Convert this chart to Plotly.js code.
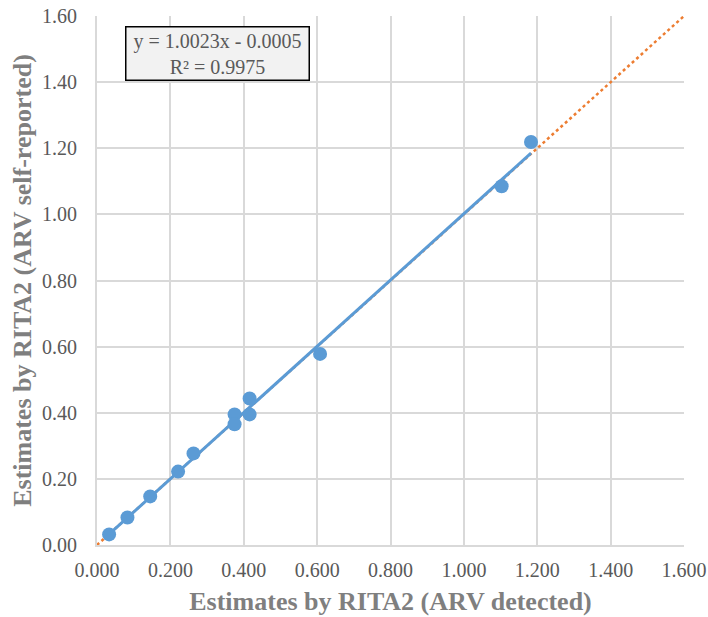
<!DOCTYPE html>
<html>
<head>
<meta charset="utf-8">
<script src="https://cdn.plot.ly/plotly-3.0.1.min.js"></script>
<style>html,body{margin:0;padding:0;background:#fff;}#chart{width:708px;height:617px;}</style>
</head>
<body>
<div id="chart"></div>
<script>
// Data
var arvDetected = [0.033, 0.083, 0.145, 0.221, 0.263, 0.375, 0.375, 0.416, 0.416, 0.608, 1.103, 1.183];
var arvSelfReported = [0.032, 0.083, 0.147, 0.222, 0.277, 0.395, 0.365, 0.443, 0.395, 0.578, 1.085, 1.219];
var slope = 1.0023;
var intercept = -0.0005;
var identityX = [0, 1.6];
var identityY = [0, 1.6];
var xTicks = [0, 0.2, 0.4, 0.6, 0.8, 1.0, 1.2, 1.4, 1.6];
var yTicks = [0, 0.2, 0.4, 0.6, 0.8, 1.0, 1.2, 1.4, 1.6];

var xMin = Math.min.apply(null, arvDetected);
var xMax = Math.max.apply(null, arvDetected);
var trendX = [xMin, xMax];
var trendY = trendX.map(function(v){ return slope * v + intercept; });

var traces = [
  {x: identityX, y: identityY, mode: 'lines', type: 'scatter',
   line: {color: '#ed7d31', width: 2.5, dash: 'dot'}, hoverinfo: 'skip'},
  {x: trendX, y: trendY, mode: 'lines', type: 'scatter',
   line: {color: '#5b9bd5', width: 3}},
  {x: arvDetected, y: arvSelfReported, mode: 'markers', type: 'scatter',
   marker: {color: '#5b9bd5', size: 14}}
];

var fontFam = 'Liberation Serif, Times New Roman, serif';
var layout = {
  width: 708, height: 617,
  margin: {l: 97, r: 24, t: 16, b: 72},
  showlegend: false,
  paper_bgcolor: '#fff', plot_bgcolor: '#fff',
  font: {family: fontFam, color: '#595959'},
  xaxis: {
    range: [0, 1.6], tickvals: xTicks,
    ticktext: xTicks.map(function(v){ return v.toFixed(3); }),
    showgrid: true, gridcolor: '#d9d9d9', gridwidth: 2,
    zeroline: false, showline: true, linecolor: '#d9d9d9', linewidth: 2,
    ticks: 'outside', ticklen: 6, tickcolor: 'rgba(0,0,0,0)',
    tickfont: {size: 20, color: '#595959', family: fontFam},
    title: {text: '<b>Estimates by RITA2 (ARV detected)</b>', font: {size: 26, color: '#7f7f7f', family: fontFam}, standoff: 12}
  },
  yaxis: {
    range: [0, 1.6], tickvals: yTicks,
    ticktext: yTicks.map(function(v){ return v.toFixed(2); }),
    showgrid: true, gridcolor: '#d9d9d9', gridwidth: 2,
    zeroline: false, showline: true, linecolor: '#d9d9d9', linewidth: 2,
    ticks: 'outside', ticklen: 14, tickcolor: 'rgba(0,0,0,0)',
    tickfont: {size: 20, color: '#595959', family: fontFam},
    title: {text: '<b>Estimates by RITA2 (ARV self-reported)</b>', font: {size: 26, color: '#7f7f7f', family: fontFam}, standoff: 3}
  },
  annotations: [{
    xref: 'paper', yref: 'paper',
    x: (217 - 97) / 587, y: (545 - 53) / 529,
    xanchor: 'center', yanchor: 'middle',
    text: 'y = ' + slope.toFixed(4) + 'x - ' + Math.abs(intercept).toFixed(4) + '<br>R² = 0.9975',
    showarrow: false,
    font: {size: 20, color: '#595959', family: fontFam},
    bgcolor: '#f2f2f2', bordercolor: '#000', borderwidth: 1.5,
    borderpad: 2, width: 178, height: 48, align: 'center'
  }]
};

Plotly.newPlot('chart', traces, layout, {displayModeBar: false, staticPlot: true});
</script>
</body>
</html>
